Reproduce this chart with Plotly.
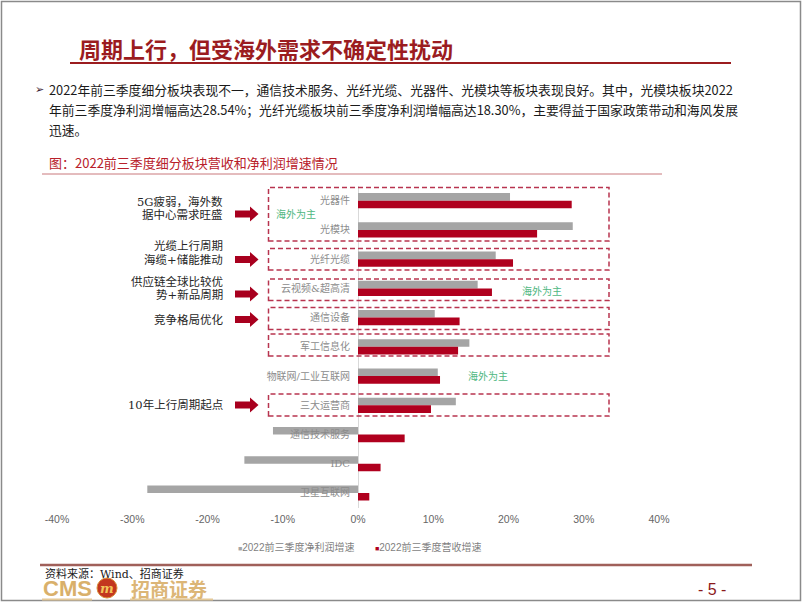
import plotly.graph_objects as go

# ---------------- data ----------------
categories = ["光器件", "光模块", "光纤光缆", "云视频&超高清", "通信设备", "军工信息化",
              "物联网/工业互联网", "三大运营商", "通信技术服务", "IDC", "卫星互联网"]
net_profit_growth = [20.2, 28.54, 18.30, 15.9, 10.2, 14.8, 10.6, 13.0, -11.3, -15.1, -28.0]
revenue_growth = [28.4, 23.8, 20.6, 17.8, 13.5, 13.3, 10.9, 9.7, 6.2, 3.0, 1.5]
tick_values = [-40, -30, -20, -10, 0, 10, 20, 30, 40]
tick_labels = ["-40%", "-30%", "-20%", "-10%", "0%", "10%", "20%", "30%", "40%"]
series_names = ["2022前三季度净利润增速", "2022前三季度营收增速"]

W, H = 802, 602
GRAY = "#a5a5a5"
RED = "#b0001e"
DARK_RED = "#9b1c1f"
SANS = "Noto Sans CJK SC"
SERIF = "DejaVu Serif, Noto Sans CJK SC"


def px(x):
    return x / W


def py(y):
    return 1 - y / H


fig = go.Figure()
fig.add_trace(go.Bar(y=categories, x=net_profit_growth, orientation="h", name=series_names[0],
                     marker=dict(color=GRAY, line=dict(width=0))))
fig.add_trace(go.Bar(y=categories, x=revenue_growth, orientation="h", name=series_names[1],
                     marker=dict(color=RED, line=dict(width=0))))

shapes = []
annotations = []

# page border
shapes.append(dict(type="rect", xref="paper", yref="paper", x0=px(1.5), x1=px(800.5),
                   y0=py(600.5), y1=py(1.5), line=dict(color="#8a8a8a", width=1.5)))

# title + underline
annotations.append(dict(xref="paper", yref="paper", x=px(77), y=py(48), xanchor="left", yanchor="middle",
                        text="<b>周期上行，但受海外需求不确定性扰动</b>", showarrow=False,
                        font=dict(family=SANS, size=22, color=DARK_RED)))
shapes.append(dict(type="line", xref="paper", yref="paper", x0=px(70), x1=px(731), y0=py(63), y1=py(63),
                   line=dict(color=DARK_RED, width=2)))

# paragraph
para = ["2022年前三季度细分板块表现不一，通信技术服务、光纤光缆、光器件、光模块等板块表现良好。其中，光模块板块2022",
        "年前三季度净利润增幅高达28.54%；光纤光缆板块前三季度净利润增幅高达18.30%，主要得益于国家政策带动和海风发展",
        "迅速。"]
annotations.append(dict(xref="paper", yref="paper", x=px(33), y=py(89), xanchor="left", yanchor="middle",
                        text="➢", showarrow=False, font=dict(family="DejaVu Sans", size=11, color="#3a2030")))
for i, line in enumerate(para):
    annotations.append(dict(xref="paper", yref="paper", x=px(47), y=py(89 + 20 * i), xanchor="left",
                            yanchor="middle", text=line, showarrow=False,
                            font=dict(family=SANS, size=12.8, color="#1a1a1a")))

# chart title
annotations.append(dict(xref="paper", yref="paper", x=px(47), y=py(163), xanchor="left", yanchor="middle",
                        text="图：2022前三季度细分板块营收和净利润增速情况", showarrow=False,
                        font=dict(family=SANS, size=13, color="#b8202a")))
shapes.append(dict(type="line", xref="paper", yref="paper", x0=px(42), x1=px(662), y0=py(174), y1=py(174),
                   line=dict(color="#c9797d", width=1)))

# dashed boxes
for (t, b) in [(187.5, 241), (248.5, 270), (279, 300.5), (307.5, 329.5), (334, 356), (394, 416)]:
    shapes.append(dict(type="rect", xref="paper", yref="paper", x0=px(268.5), x1=px(609),
                       y0=py(b), y1=py(t), line=dict(color="#b8344f", width=1.5, dash="5px,3px")))

# block arrows
for yc in [214, 259.5, 294, 319.5, 405]:
    x0, x1, x2 = 235, 250, 258.5
    pts = [(x0, yc - 3.5), (x1, yc - 3.5), (x1, yc - 7.5), (x2, yc), (x1, yc + 7.5), (x1, yc + 3.5), (x0, yc + 3.5)]
    path = "M " + " L ".join(f"{px(a):.5f},{py(b):.5f}" for a, b in pts) + " Z"
    shapes.append(dict(type="path", xref="paper", yref="paper", path=path,
                       fillcolor="#a8001e", line=dict(width=0)))

# left notes
notes = [("5G疲弱，海外数", 202), ("据中心需求旺盛", 215), ("光缆上行周期", 246.5), ("海缆+储能推动", 259.5),
         ("供应链全球比较优", 282), ("势+新品周期", 295), ("竞争格局优化", 320), ("10年上行周期起点", 404.5)]
for txt, yc in notes:
    annotations.append(dict(xref="paper", yref="paper", x=px(225), y=py(yc), xanchor="right", yanchor="middle",
                            text=txt, showarrow=False, font=dict(family=SERIF, size=11.5, color="#262626")))

# green notes
for xc, yc in [(296, 214), (542, 291), (488, 376)]:
    annotations.append(dict(xref="paper", yref="paper", x=px(xc), y=py(yc), xanchor="center", yanchor="middle",
                            text="海外为主", showarrow=False, font=dict(family=SERIF, size=10, color="#4fb77f")))

# legend (as text)
for xs, color, name in [(236, GRAY, series_names[0]), (373, RED, series_names[1])]:
    annotations.append(dict(xref="paper", yref="paper", x=px(xs), y=py(547), xanchor="left", yanchor="middle",
                            text=f"<span style='color:{color};font-size:7px'>■</span>{name}", showarrow=False,
                            font=dict(family="Liberation Sans, Noto Sans CJK SC", size=10, color="#7f7f7f")))

# footer line
shapes.append(dict(type="line", xref="paper", yref="paper", x0=px(40), x1=px(752), y0=py(565), y1=py(565),
                   line=dict(color="#a0605a", width=2.5)))

# logo
annotations.append(dict(xref="paper", yref="paper", x=px(41), y=py(588), xanchor="left", yanchor="middle",
                        text="<b>CMS</b>", showarrow=False,
                        font=dict(family="Liberation Sans", size=22, color="#d9b06a")))
shapes.append(dict(type="circle", xref="paper", yref="paper", x0=px(97), x1=px(117), y0=py(598), y1=py(578),
                   fillcolor="#c3361f", line=dict(color="#d9903a", width=1)))
annotations.append(dict(xref="paper", yref="paper", x=px(107), y=py(588), xanchor="center", yanchor="middle",
                        text="<i><b>m</b></i>", showarrow=False,
                        font=dict(family="DejaVu Serif", size=13, color="#f2c45a")))
annotations.append(dict(xref="paper", yref="paper", x=px(129), y=py(588), xanchor="left", yanchor="middle",
                        text="<b>招商证券</b>", showarrow=False,
                        font=dict(family=SANS, size=19, color="#dcb677")))
for a, b in [(42, 92), (130, 213)]:
    shapes.append(dict(type="line", xref="paper", yref="paper", x0=px(a), x1=px(b), y0=py(599.5), y1=py(599.5),
                       line=dict(color="#e3c897", width=2)))

annotations.append(dict(xref="paper", yref="paper", x=px(43), y=py(574), xanchor="left", yanchor="middle",
                        text="资料来源：Wind、招商证券", showarrow=False,
                        font=dict(family=SERIF, size=11, color="#1a1a1a")))
annotations.append(dict(xref="paper", yref="paper", x=px(712), y=py(589), xanchor="center", yanchor="middle",
                        text="- 5 -", showarrow=False,
                        font=dict(family="Liberation Sans", size=16, color="#8b1a1a")))

# axes geometry
y_top, y_bot = 200.7 - 14.6, 493.0 + 14.6

fig.update_layout(
    width=W, height=H, autosize=False,
    margin=dict(l=0, r=0, t=0, b=0, pad=0),
    paper_bgcolor="white", plot_bgcolor="rgba(0,0,0,0)",
    barmode="group", bargap=0.48, bargroupgap=0,
    showlegend=False,
    shapes=shapes, annotations=annotations,
    xaxis=dict(domain=[px(57), px(659)], range=[-40, 40], tickmode="array", tickvals=tick_values,
               ticktext=tick_labels, showgrid=False, zeroline=True, zerolinecolor="#d9d9d9", zerolinewidth=1,
               showline=False, ticks="", ticklabelstandoff=4, automargin=False,
               tickfont=dict(family="Liberation Sans", size=10.5, color="#666666")),
    yaxis=dict(domain=[py(y_bot), py(y_top)], type="category", categoryorder="array",
               categoryarray=categories, autorange="reversed", anchor="free", position=px(358),
               showgrid=False, zeroline=False, showline=False, ticks="", ticklabelstandoff=8, automargin=False,
               tickfont=dict(family=SERIF, size=10, color="#8c8c8c")),
)

fig.write_html("out.html", config={"responsive": False},
               post_script="document.body.style.margin='0';document.body.style.overflow='hidden';")
